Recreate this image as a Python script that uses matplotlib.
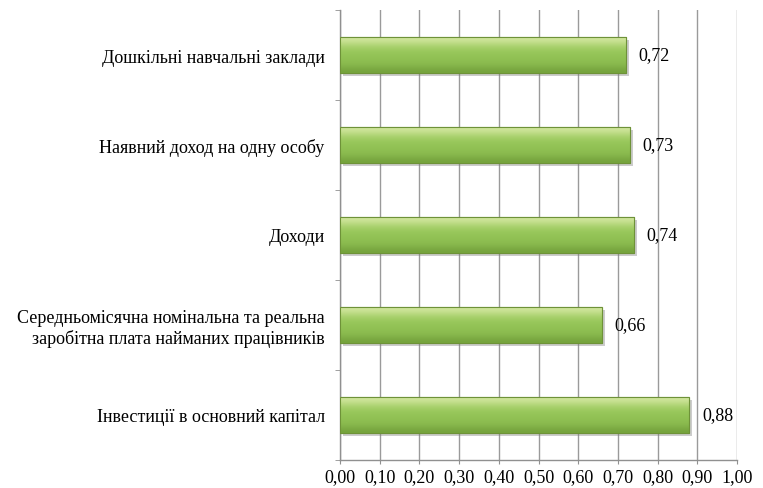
import numpy as np
import matplotlib
import matplotlib.pyplot as plt
import matplotlib.patheffects as pe
from matplotlib.ticker import FixedLocator

matplotlib.use('Agg')

categories = [
    'Дошкільні навчальні заклади',
    'Наявний доход на одну особу',
    'Доходи',
    'Середньомісячна номінальна та реальна\nзаробітна плата найманих працівників',
    'Інвестиції в основний капітал',
]
values = [0.72, 0.73, 0.74, 0.66, 0.88]
value_labels = ['0,72', '0,73', '0,74', '0,66', '0,88']
x_ticks = [i / 10 for i in range(11)]
x_tick_labels = ['{:.2f}'.format(t).replace('.', ',') for t in x_ticks]

plt.rcParams['font.family'] = ['Liberation Serif', 'DejaVu Serif']

fig = plt.figure(figsize=(7.63, 4.89), dpi=100)
ax = fig.add_axes([0.4456, 0.0573, 0.5204, 0.9202])

ypos = np.arange(len(categories))
bars = ax.barh(ypos, values, height=0.4, color='#92c353', edgecolor='#6e9238',
               linewidth=0.8, zorder=3,
               path_effects=[pe.SimplePatchShadow(offset=(2, -2), shadow_rgbFace='#808080', alpha=0.4),
                             pe.Normal()])

# vertical gradient on each bar, light on top
grad = np.array([
    [0.82, 0.90, 0.62],
    [0.70, 0.84, 0.47],
    [0.61, 0.79, 0.37],
    [0.58, 0.77, 0.34],
    [0.56, 0.75, 0.32],
    [0.53, 0.72, 0.30],
    [0.46, 0.64, 0.24],
])
for b in bars:
    x0, y0 = b.get_x(), b.get_y()
    w, h = b.get_width(), b.get_height()
    im = ax.imshow(grad[:, np.newaxis, :], extent=(x0, x0 + w, y0 + h, y0),
                   aspect='auto', interpolation='bicubic', zorder=4)
    im.set_clip_path(b)
    ax.add_patch(plt.Rectangle((x0, y0), w, h, fill=False, edgecolor='#6e9238',
                               linewidth=0.8, zorder=5))

for y, v, lab in zip(ypos, values, value_labels):
    ax.annotate(lab, (v, y), xytext=(9, 0), textcoords='offset points',
                ha='left', va='center', fontsize=13, color='black', zorder=6)

ax.set_xlim(0, 1.0)
ax.set_ylim(len(categories) - 0.5, -0.5)
ax.set_xticks(x_ticks)
ax.set_xticklabels(x_tick_labels, fontsize=13)
ax.set_yticks(ypos)
ax.set_yticklabels(categories, fontsize=13, ha='right', multialignment='right')
ax.yaxis.set_minor_locator(FixedLocator(np.arange(-0.5, len(categories), 1.0)))
ax.tick_params(axis='y', which='major', length=0, pad=11)
ax.tick_params(axis='y', which='minor', length=3.5, color='#909090', direction='out')
ax.tick_params(axis='x', length=3, color='#909090', direction='out', pad=3)

ax.grid(True, axis='x', color='#9a9a9a', linewidth=1.0, zorder=0)
ax.set_axisbelow(True)
for s in ['top', 'right']:
    ax.spines[s].set_visible(False)
for s in ['left', 'bottom']:
    ax.spines[s].set_color('#909090')
    ax.spines[s].set_linewidth(1.0)

plt.savefig('out.png', dpi=100)
plt.close()
